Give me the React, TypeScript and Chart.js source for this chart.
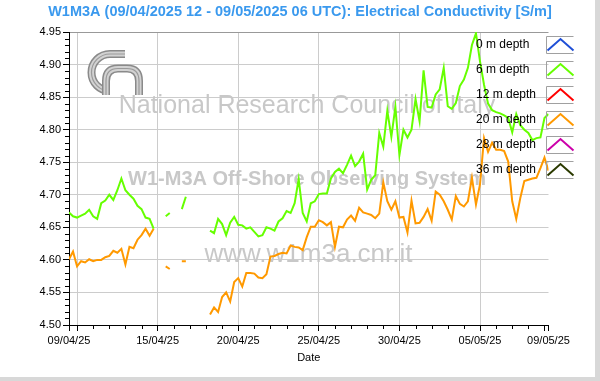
import React, { useEffect, useRef } from 'react';
import { Chart, registerables } from 'chart.js';

Chart.register(...registerables);

const TITLE = 'W1M3A (09/04/2025 12 - 09/05/2025 06 UTC): Electrical Conductivity [S/m]';
const WATERMARK_ORG = 'National Research Council of Italy';
const WATERMARK_SYSTEM = 'W1-M3A Off-Shore Observing System';
const WATERMARK_URL = 'www.w1m3a.cnr.it';
const X_TITLE = 'Date';

const depthLabels = ['0 m depth', '6 m depth', '12 m depth', '20 m depth', '28 m depth', '36 m depth'];
const depthColors = ['#1f4fd6', '#66ff00', '#ff0000', '#ff9900', '#cc00aa', '#2b3a00'];

// sample times: days since 09/04/2025 00:00 UTC, one sample every 6 h from 09/04 12 UTC
const firstSampleDay = 0.5;
const sampleStepDays = 0.25;
const sampleCount = 120;

const cond0m: (number | null)[] = [];
const cond6m: (number | null)[] = [
  4.673, 4.667, 4.665, 4.668, 4.671, 4.677, 4.667, 4.663, 4.687, 4.691,
  4.700, 4.692, 4.707, 4.725, 4.707, 4.700, 4.694, 4.683, 4.678, 4.665,
  4.663, 4.648, null, null, 4.667, 4.672, null, null, 4.678, 4.697,
  null, null, null, null, null, 4.645, 4.641, 4.663, 4.655, 4.638,
  4.657, 4.666, 4.654, 4.653, 4.648, 4.650, 4.643, 4.636, 4.638, 4.650,
  4.648, 4.645, 4.659, 4.664, 4.675, 4.672, 4.687, 4.724, 4.672, 4.659,
  4.687, 4.690, 4.701, 4.702, 4.702, 4.725, 4.735, 4.740, 4.733, 4.746,
  4.760, 4.744, 4.751, 4.763, 4.708, 4.723, 4.730, 4.795, 4.774, 4.829,
  4.789, 4.835, 4.761, 4.800, 4.788, 4.800, 4.847, 4.813, 4.891, 4.835,
  4.834, 4.854, 4.862, 4.895, 4.836, 4.832, 4.841, 4.867, 4.877, 4.895,
  4.930, 4.948, 4.905, 4.869, 4.840, 4.830, 4.827, 4.825, 4.822, 4.818,
  4.796, 4.824, 4.807, 4.800, 4.795, 4.784, 4.787, 4.788, 4.818, 4.824,
];
const cond12m: (number | null)[] = [];
const cond20m: (number | null)[] = [
  4.601, 4.613, 4.590, 4.598, 4.596, 4.601, 4.598, 4.600, 4.600, 4.604,
  4.606, 4.614, 4.611, 4.617, 4.593, 4.620, 4.618, 4.631, 4.638, 4.648,
  4.637, 4.648, null, null, 4.590, 4.586, null, null, 4.598, 4.598,
  null, null, null, null, null, 4.516, 4.527, 4.520, 4.543, 4.550,
  4.536, 4.566, 4.572, 4.559, 4.580, 4.580, 4.579, 4.573, 4.572, 4.578,
  4.605, 4.606, 4.609, 4.611, 4.610, 4.622, 4.620, 4.619, 4.615, 4.635,
  4.651, 4.651, 4.661, 4.658, 4.653, 4.658, 4.620, 4.651, 4.650, 4.662,
  4.668, 4.660, 4.680, 4.673, 4.671, 4.669, 4.664, 4.671, 4.719, 4.690,
  4.677, 4.690, 4.665, 4.666, 4.642, 4.691, 4.656, 4.657, 4.666, 4.678,
  4.660, 4.705, 4.700, 4.690, 4.677, 4.662, 4.698, 4.686, 4.682, 4.690,
  4.726, 4.685, 4.716, 4.787, 4.766, 4.780, 4.769, 4.769, 4.767, 4.751,
  4.690, 4.663, 4.695, 4.721, 4.723, 4.725, 4.726, 4.741, 4.757, 4.737,
];
const cond28m: (number | null)[] = [];
const cond36m: (number | null)[] = [];

const depthSeries = [cond0m, cond6m, cond12m, cond20m, cond28m, cond36m];

// x axis (days since 09/04/2025 00:00)
const xMin = 0.5;
const xMax = 30.25;
const xTickDays = [0.5, 1, 6, 11, 16, 21, 26, 30, 30.25];
const xTickLabels = ['09/04/25', '', '15/04/25', '20/04/25', '25/04/25', '30/04/25', '05/05/25', '', '09/05/25'];
const xGridDays = [1, 6, 11, 16, 21, 26];

// y axis
const yMin = 4.5;
const yMax = 4.95;
const yTicks = [4.5, 4.55, 4.6, 4.65, 4.7, 4.75, 4.8, 4.85, 4.9, 4.95];

const FONT = '"Liberation Sans", Arial, sans-serif';

const sampleDays = Array.from({ length: sampleCount }, (_, k) => firstSampleDay + k * sampleStepDays);

function toPoints(values: (number | null)[]) {
  return values.map((v, k) => ({ x: sampleDays[k], y: v }));
}

const decorPlugin = {
  id: 'decor',
  beforeDatasetsDraw(chart: any) {
    const ctx = chart.ctx as CanvasRenderingContext2D;
    ctx.save();
    ctx.fillStyle = '#c8c8c8';
    ctx.textAlign = 'center';
    ctx.textBaseline = 'alphabetic';
    ctx.font = `25px ${FONT}`;
    ctx.fillText(WATERMARK_ORG, 307, 112.5);
    ctx.font = `bold 20px ${FONT}`;
    ctx.fillText(WATERMARK_SYSTEM, 307, 185);
    ctx.font = `26px ${FONT}`;
    ctx.fillText(WATERMARK_URL, 308.5, 262);

    // logo
    const drawBand = (path: (c: CanvasRenderingContext2D) => void) => {
      ctx.lineCap = 'butt';
      ctx.lineJoin = 'round';
      ctx.strokeStyle = '#8a8a8a';
      ctx.lineWidth = 8;
      ctx.beginPath(); path(ctx); ctx.stroke();
      ctx.strokeStyle = '#d2d2d2';
      ctx.lineWidth = 5;
      ctx.beginPath(); path(ctx); ctx.stroke();
      ctx.strokeStyle = '#9a9a9a';
      ctx.lineWidth = 1.2;
      ctx.beginPath(); path(ctx); ctx.stroke();
    };
    drawBand((c) => {
      c.moveTo(125, 54);
      c.lineTo(110, 54);
      c.arc(110, 72.5, 18.5, -Math.PI / 2, Math.PI / 2, true);
    });
    drawBand((c) => {
      c.moveTo(106, 95);
      c.lineTo(106, 81);
      c.quadraticCurveTo(106, 68.5, 118, 68.5);
      c.lineTo(127, 68.5);
      c.quadraticCurveTo(139, 68.5, 139, 81);
      c.lineTo(139, 95);
    });
    ctx.restore();
  },
  afterDraw(chart: any) {
    const ctx = chart.ctx as CanvasRenderingContext2D;
    const { chartArea, scales } = chart;
    ctx.save();

    // minor ticks
    ctx.strokeStyle = '#000';
    ctx.lineWidth = 1;
    ctx.beginPath();
    for (let i = 0; i < yTicks.length - 1; i++) {
      for (let j = 1; j < 5; j++) {
        const v = yTicks[i] + ((yTicks[i + 1] - yTicks[i]) * j) / 5;
        const y = Math.round(scales.y.getPixelForValue(v)) + 0.5;
        ctx.moveTo(chartArea.left - 4, y);
        ctx.lineTo(chartArea.left, y);
      }
    }
    for (let d = Math.ceil(xMin); d <= Math.floor(xMax); d++) {
      if (xTickDays.includes(d)) continue;
      const x = Math.round(scales.x.getPixelForValue(d)) + 0.5;
      ctx.moveTo(x, chartArea.bottom);
      ctx.lineTo(x, chartArea.bottom + 4);
    }
    ctx.stroke();

    // title
    ctx.font = `bold 14.5px ${FONT}`;
    ctx.fillStyle = '#3a99ee';
    ctx.textAlign = 'center';
    ctx.textBaseline = 'middle';
    ctx.fillText(TITLE, 300, 11.5);

    // legend
    ctx.font = `12px ${FONT}`;
    ctx.textAlign = 'left';
    chart.data.datasets.forEach((ds: any, i: number) => {
      const cy = 45 + i * 25;
      ctx.fillStyle = '#000';
      ctx.fillText(ds.label, 476, cy);
      const bx = 546.5, by = cy - 8.5, bw = 27, bh = 17;
      ctx.strokeStyle = '#a0a0a0';
      ctx.lineWidth = 1;
      ctx.beginPath();
      ctx.moveTo(bx + bw, by);
      ctx.lineTo(bx, by);
      ctx.lineTo(bx, by + bh);
      ctx.lineTo(bx + bw, by + bh);
      ctx.stroke();
      ctx.strokeStyle = ds.borderColor;
      ctx.lineWidth = 2;
      ctx.beginPath();
      ctx.moveTo(bx + 1, by + 14);
      ctx.lineTo(bx + 14, by + 2.5);
      ctx.lineTo(bx + 27, by + 14);
      ctx.stroke();
    });

    // window frame
    ctx.fillStyle = '#d8d8d8';
    ctx.fillRect(595, 0, 5, 381);
    ctx.fillRect(0, 377, 600, 4);
    ctx.restore();
  },
};

export default function App() {
  const ref = useRef<HTMLCanvasElement>(null);
  useEffect(() => {
    const canvas = ref.current!;
    const chart = new Chart(canvas, {
      type: 'line',
      data: {
        datasets: depthLabels.map((label, i) => ({
          label,
          data: toPoints(depthSeries[i]),
          borderColor: depthColors[i],
          backgroundColor: depthColors[i],
          borderWidth: 2,
          pointRadius: 0,
          tension: 0,
          spanGaps: false,
          fill: false,
        })),
      },
      options: {
        animation: false,
        responsive: false,
        devicePixelRatio: 1,
        layout: { padding: { left: 0, top: 32, right: 51.5, bottom: 0 } },
        plugins: {
          legend: { display: false },
          title: { display: false },
          tooltip: { enabled: false },
        },
        scales: {
          x: {
            type: 'linear',
            min: xMin,
            max: xMax,
            afterBuildTicks: (s: any) => {
              s.ticks = xTickDays.map((v) => ({ value: v }));
            },
            afterFit: (s: any) => {
              s.height = 56;
            },
            ticks: {
              autoSkip: false,
              maxRotation: 0,
              minRotation: 0,
              padding: 3,
              color: '#000',
              font: { family: FONT, size: 11 },
              callback: (_v: any, i: number) => xTickLabels[i],
            },
            grid: {
              color: (c: any) => (c.tick && xGridDays.includes(c.tick.value) ? '#cccccc' : 'rgba(0,0,0,0)'),
              tickColor: '#000',
              tickLength: 6,
              lineWidth: 1,
            },
            border: { color: '#000', width: 1 },
            title: {
              display: true,
              text: X_TITLE,
              color: '#000',
              font: { family: FONT, size: 11 },
              padding: { top: 0, bottom: 16 },
            },
          },
          y: {
            type: 'linear',
            min: yMin,
            max: yMax,
            afterBuildTicks: (s: any) => {
              s.ticks = yTicks.map((v) => ({ value: v }));
            },
            afterFit: (s: any) => {
              s.width = 69;
            },
            ticks: {
              padding: 2,
              color: '#000',
              font: { family: FONT, size: 11 },
              callback: (v: any) => Number(v).toFixed(2),
            },
            grid: {
              color: (c: any) => (c.tick && Math.abs(c.tick.value - yMax) < 1e-6 ? '#999999' : '#cccccc'),
              tickColor: '#000',
              tickLength: 6,
              lineWidth: 1,
            },
            border: { color: '#000', width: 1 },
          },
        },
      },
      plugins: [decorPlugin],
    } as any);
    return () => chart.destroy();
  }, []);

  return (
    <div style={{ position: 'fixed', left: 0, top: 0, width: 600, height: 381, background: '#fff' }}>
      <canvas ref={ref} width={600} height={381} style={{ display: 'block', width: 600, height: 381 }} />
    </div>
  );
}
